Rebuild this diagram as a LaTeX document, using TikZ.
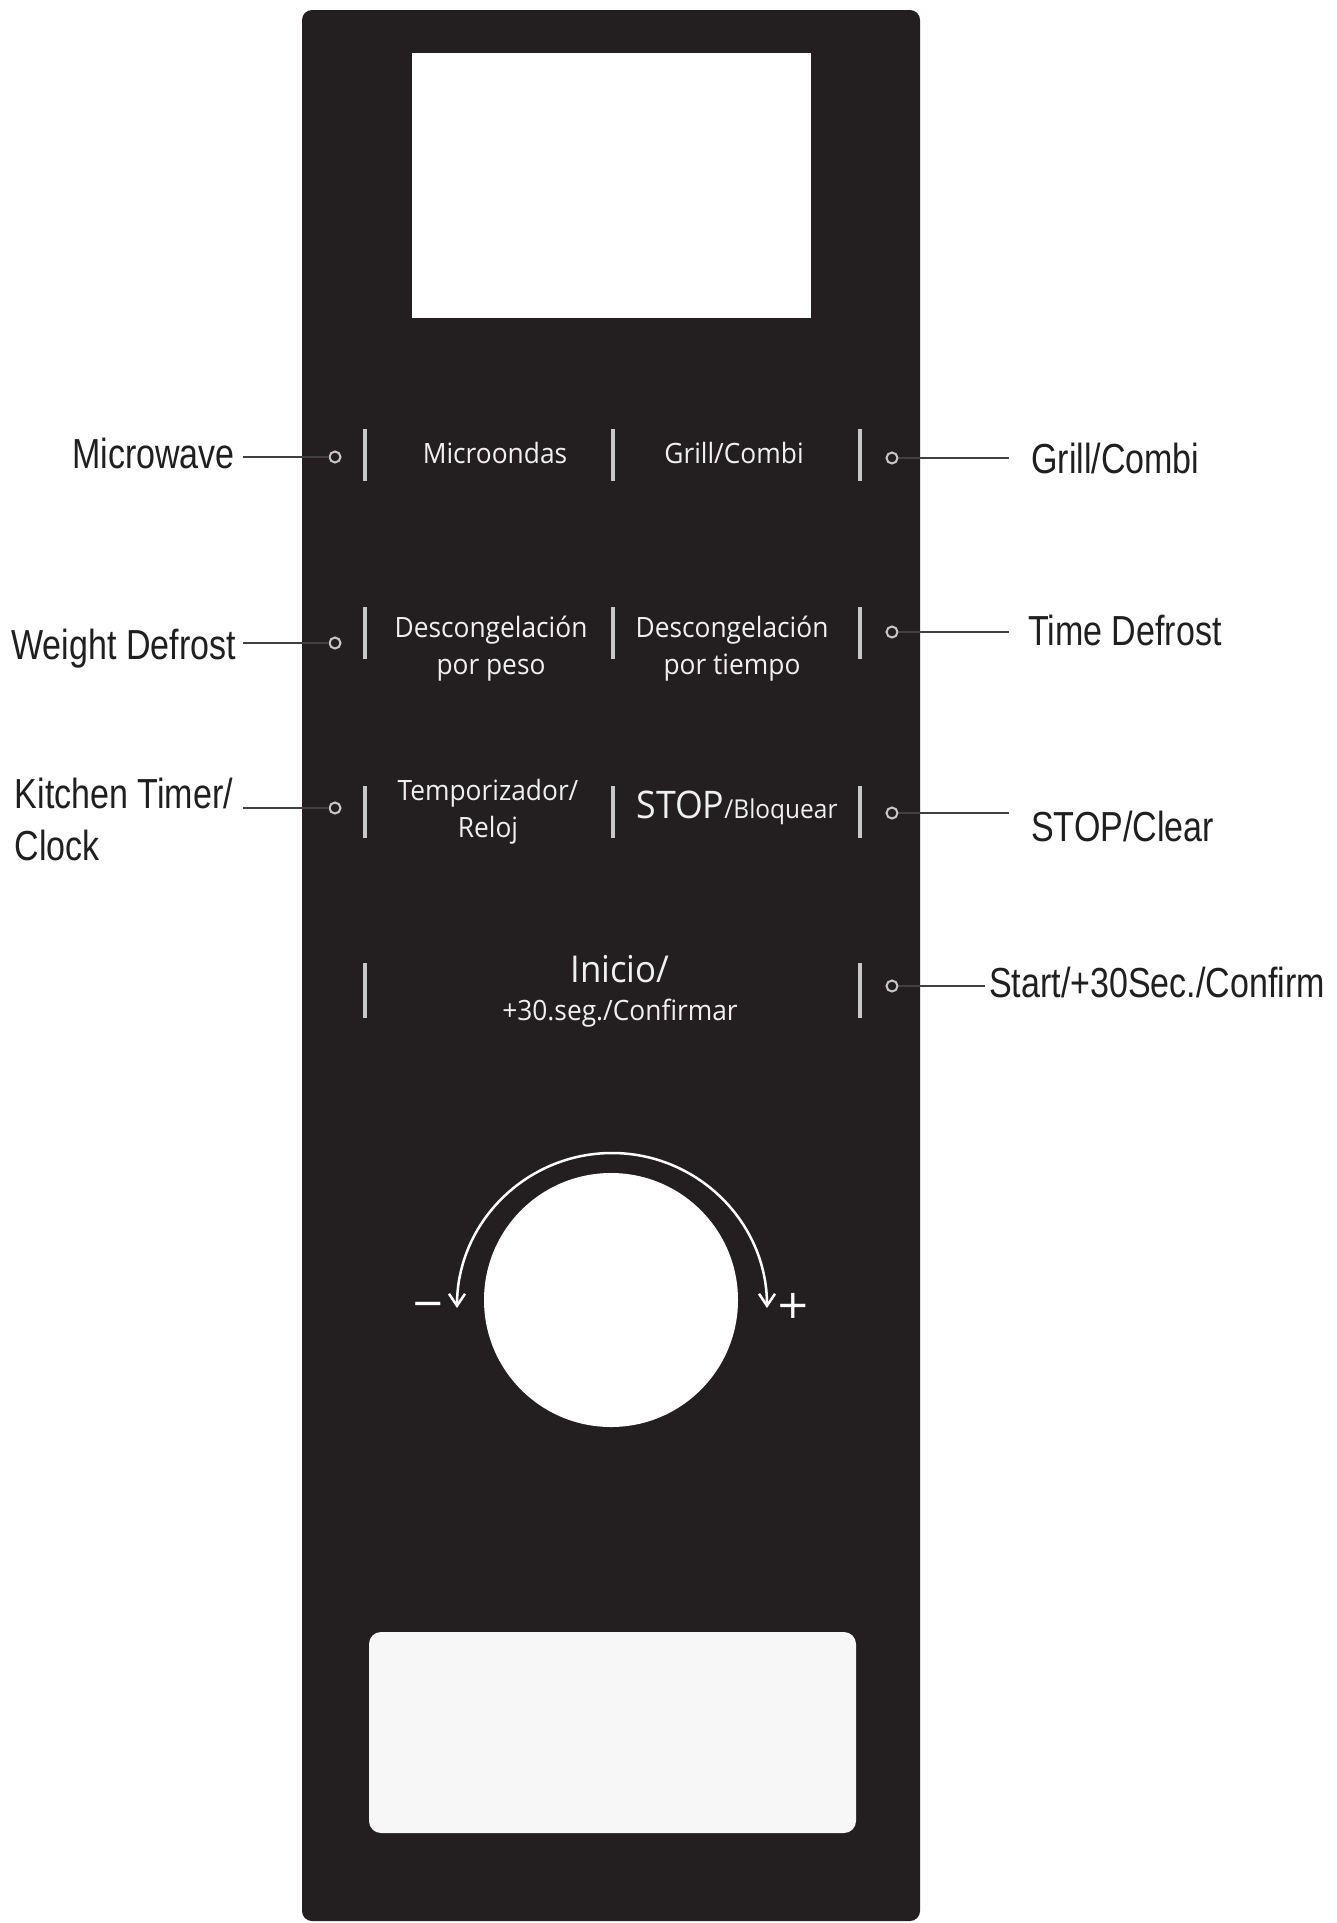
\documentclass[tikz,border=0pt]{standalone}
\usepackage{fontspec}
\setmainfont{Open Sans}[FakeStretch=0.94]
\newfontfamily\lblfont{Liberation Sans}[FakeStretch=0.81]
\newfontfamily\symfont{DejaVu Sans}
\usetikzlibrary{positioning,arrows.meta,calc}
\definecolor{panel}{HTML}{231F20}
\definecolor{barc}{HTML}{C8C8C8}

\begin{document}
\begin{tikzpicture}[x=1pt, y=-1pt,
  lbl/.style={font=\lblfont\fontsize{42}{52}\selectfont, text=black!88, inner sep=0pt},
  txt/.style={font=\fontsize{28}{34}\selectfont, text=white!94!black, inner sep=0pt, anchor=base},
  bar/.style={draw=barc, line width=3.5pt},
  dot/.style={circle, draw=barc, fill=panel, line width=2pt, minimum size=11pt, inner sep=0pt},
  lead/.style={draw=black!30, double=black!75, double distance=1.2pt, line width=0.8pt},
  tip/.tip={Straight Barb[length=12pt, width=16pt]}]
  \useasboundingbox (0,0) rectangle (1337,1923);
  \fill[white] (0,0) rectangle (1337,1923);
  % panel, display and bottom window
  \fill[panel, rounded corners=10pt] (302,10) rectangle (920,1921);
  \fill[white] (412,53) rectangle (811,318);
  \fill[black!3, rounded corners=12pt] (369,1632) rectangle (856,1833);
  % separators
  \foreach \y in {455,633,812}
    \foreach \x in {365,613,860}
      \draw[bar] (\x,\y-26) -- (\x,\y+26);
  \foreach \x in {365,860} \draw[bar] (\x,963) -- (\x,1018);
  % key texts
  \node[txt] (mo) at (495,463) {Microondas};
  \node[txt] (gc) at (734,463) {Grill/Combi};
  \node[txt] (dp) at (491,637) {Descongelación};
  \node[txt] (pp) at ([yshift=-37pt]dp.base) {por peso};
  \node[txt] (dt) at (732,637) {Descongelación};
  \node[txt] (pt) at ([yshift=-37pt]dt.base) {por tiempo};
  \node[txt] (tz) at (488,800) {Temporizador/};
  \node[txt] (rl) at ([yshift=-37pt]tz.base) {Reloj};
  \node[txt] (sb) at (737,818) {{\fontsize{38}{42}\selectfont STOP}{\fontsize{26}{30}\selectfont/Bloquear}};
  \node[txt, font=\fontsize{37}{44}\selectfont] (in) at (620,982) {Inicio/};
  \node[txt] (cf) at ([yshift=-38pt]in.base) {+30.seg./Confirmar};
  % dial
  \node[circle, fill=white, minimum size=254pt, inner sep=0pt] (knob) at (611,1300) {};
  \draw[white, line width=2.5pt, {tip}-{tip}] (457,1308) arc[start angle=180, end angle=360, radius=155];
  \node[font=\symfont\fontsize{40}{40}\selectfont, text=white, anchor=base] (mn) at (428,1316) {−};
  \node[font=\symfont\fontsize{40}{40}\selectfont, text=white, anchor=base] (pl) at (793,1318) {+};
  % key points
  \node[dot] (l1) at (335,457) {};
  \node[dot] (l2) at (335,643) {};
  \node[dot] (l3) at (335,808) {};
  \node[dot] (r1) at (892,458) {};
  \node[dot] (r2) at (892,632) {};
  \node[dot] (r3) at (892,813) {};
  \node[dot] (r4) at (892,986) {};
  % labels
  \node[lbl, anchor=base east] (mw) at (235,468) {Microwave};
  \node[lbl, anchor=base east] (wd) at (236,659) {Weight Defrost};
  \node[lbl, anchor=base east] (kt) at (233,808) {Kitchen Timer/};
  \node[lbl, anchor=base west] (ck) at ([yshift=-52pt]kt.base west) {Clock};
  \node[lbl, anchor=base west] (gl) at (1031,473) {Grill/Combi};
  \node[lbl, anchor=base west] (td) at (1028,645) {Time Defrost};
  \node[lbl, anchor=base west] (sc) at (1031,841) {STOP/Clear};
  \node[lbl, anchor=base west] (st) at (989,997) {Start/+30Sec./Confirm};
  % leaders
  \draw[lead, shorten <=8pt] (mw.east |- l1.west) -- (l1.west);
  \draw[lead, shorten <=7pt] (wd.east |- l2.west) -- (l2.west);
  \draw[lead, shorten <=10pt] (kt.east |- l3.west) -- (l3.west);
  \draw[lead, shorten >=22pt] (r1.east) -- (r1.east -| gl.west);
  \draw[lead, shorten >=19pt] (r2.east) -- (r2.east -| td.west);
  \draw[lead, shorten >=22pt] (r3.east) -- (r3.east -| sc.west);
  \draw[lead, shorten >=4pt] (r4.east) -- (r4.east -| st.west);
\end{tikzpicture}
\end{document}
